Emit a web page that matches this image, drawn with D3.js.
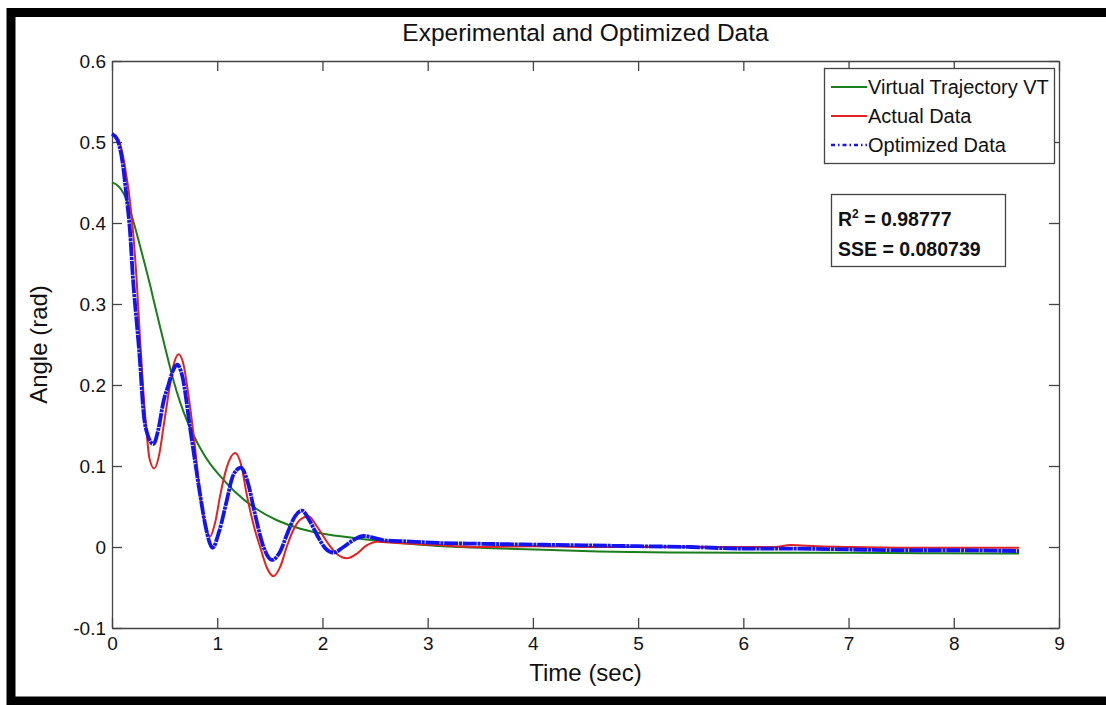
<!DOCTYPE html>
<html>
<head>
<meta charset="utf-8">
<script src="https://cdn.jsdelivr.net/npm/d3@7"></script>
<style>
  body { margin: 0; background: #fff; }
  text { font-family: "Liberation Sans", Arial, Helvetica, sans-serif; fill: #111; }
</style>
</head>
<body>
<div id="chart"></div>
<script>
// Data (time in sec, angle in rad)
var vt_t = [0, 0.06, 0.124, 0.187, 0.25, 0.31, 0.36, 0.393, 0.46, 0.52, 0.583, 0.65, 0.71, 0.774, 0.837, 0.92, 1.03, 1.155, 1.345, 1.567, 1.79, 2.01, 2.39, 2.8, 3.2, 3.5, 4.0, 4.61, 5.3, 6.0, 7.0, 7.8, 8.62];
var vt_v = [0.45, 0.447, 0.435, 0.41, 0.38, 0.35, 0.325, 0.306, 0.27, 0.238, 0.205, 0.177, 0.156, 0.138, 0.122, 0.104, 0.087, 0.069, 0.048, 0.032, 0.022, 0.0157, 0.0095, 0.004, 0.0, -0.001, -0.003, -0.006, -0.007, -0.007, -0.007, -0.008, -0.008];

var actual_t = [0, 0.06, 0.12, 0.187, 0.235, 0.266, 0.298, 0.33, 0.355, 0.4, 0.45, 0.488, 0.536, 0.58, 0.634, 0.68, 0.726, 0.79, 0.837, 0.885, 0.932, 0.98, 1.03, 1.09, 1.17, 1.23, 1.28, 1.35, 1.41, 1.47, 1.535, 1.6, 1.66, 1.72, 1.79, 1.868, 1.95, 2.05, 2.14, 2.233, 2.33, 2.42, 2.52, 2.7, 3.0, 3.5, 4.0, 4.5, 5.0, 5.5, 6.0, 6.3, 6.45, 6.7, 7.0, 7.6, 8.0, 8.62];
var actual_v = [0.51, 0.503, 0.472, 0.408, 0.328, 0.258, 0.192, 0.14, 0.11, 0.097, 0.115, 0.147, 0.188, 0.222, 0.238, 0.225, 0.188, 0.122, 0.065, 0.028, 0.013, 0.03, 0.065, 0.098, 0.116, 0.1, 0.065, 0.025, -0.001, -0.025, -0.036, -0.024, 0.0, 0.02, 0.034, 0.038, 0.025, 0.005, -0.009, -0.014, -0.008, 0.002, 0.0066, 0.005, 0.003, 0.0, 0.001, 0.0, 0.0, 0.0, 0.0, 0.0, 0.0025, 0.001, 0.0, -0.001, -0.001, -0.001];

var optim_t = [0, 0.05, 0.1, 0.14, 0.171, 0.2, 0.24, 0.266, 0.298, 0.34, 0.393, 0.44, 0.49, 0.536, 0.58, 0.62, 0.67, 0.742, 0.79, 0.837, 0.89, 0.955, 1.02, 1.09, 1.15, 1.225, 1.29, 1.36, 1.44, 1.52, 1.6, 1.67, 1.74, 1.805, 1.88, 1.96, 2.03, 2.106, 2.2, 2.3, 2.39, 2.5, 2.6, 2.8, 3.1, 3.5, 4.0, 4.5, 5.0, 5.5, 6.0, 6.5, 7.0, 7.5, 8.0, 8.62];
var optim_v = [0.51, 0.503, 0.475, 0.43, 0.39, 0.33, 0.27, 0.229, 0.168, 0.138, 0.127, 0.145, 0.18, 0.2, 0.218, 0.225, 0.21, 0.147, 0.105, 0.065, 0.025, -0.001, 0.02, 0.057, 0.088, 0.098, 0.08, 0.04, 0.0, -0.016, -0.005, 0.018, 0.038, 0.045, 0.032, 0.012, -0.002, -0.007, 0.0, 0.009, 0.0136, 0.011, 0.008, 0.007, 0.005, 0.004, 0.003, 0.002, 0.001, 0.0, -0.002, -0.002, -0.003, -0.004, -0.004, -0.005];

var x_ticks = [0, 1, 2, 3, 4, 5, 6, 7, 8, 9];
var y_ticks = [-0.1, 0, 0.1, 0.2, 0.3, 0.4, 0.5, 0.6];
var y_tick_labels = ["-0.1", "0", "0.1", "0.2", "0.3", "0.4", "0.5", "0.6"];
var legend_labels = ["Virtual Trajectory VT", "Actual Data", "Optimized Data"];

// Setting parameters for the chart area
var svg_width = 1106;
var svg_height = 705;
var margin = { top: 61, right: 47, bottom: 77, left: 112 };
var width = svg_width - margin.left - margin.right;
var height = svg_height - margin.top - margin.bottom;

var svg = d3.select("#chart")
    .append("svg")
    .attr("width", svg_width)
    .attr("height", svg_height)

// thick black frame (right side is cut off in the original)
svg.append("rect")
    .attr("x", 11).attr("y", 12.5)
    .attr("width", 1130).attr("height", 688.5)
    .attr("fill", "none")
    .attr("stroke", "#000")
    .attr("stroke-width", 9)

var chart = svg.append("g")
    .attr("transform", `translate(${margin.left}, ${margin.top})`)

var x_scale = d3.scaleLinear().domain([0, 9]).range([0, width])
var y_scale = d3.scaleLinear().domain([-0.1, 0.6]).range([height, 0])

// axes, MATLAB style ticks pointing in
function styleAxis(g) {
    g.select(".domain").attr("stroke", "#444").attr("stroke-width", 1.3)
    g.selectAll(".tick line").attr("stroke", "#444").attr("stroke-width", 1.3)
    g.selectAll(".tick text").style("font-size", "19px").attr("fill", "#111")
}

chart.append("g")
    .attr("transform", `translate(0, ${height})`)
    .call(d3.axisBottom(x_scale).tickValues(x_ticks).tickFormat(d3.format("d"))
        .tickSizeInner(-10).tickSizeOuter(0).tickPadding(9))
    .call(styleAxis)

chart.append("g")
    .call(d3.axisTop(x_scale).tickValues(x_ticks).tickFormat("")
        .tickSizeInner(-10).tickSizeOuter(0))
    .call(styleAxis)

chart.append("g")
    .call(d3.axisLeft(y_scale).tickValues(y_ticks).tickFormat((d, i) => y_tick_labels[i])
        .tickSizeInner(-10).tickSizeOuter(0).tickPadding(6))
    .call(styleAxis)

chart.append("g")
    .attr("transform", `translate(${width}, 0)`)
    .call(d3.axisRight(y_scale).tickValues(y_ticks).tickFormat("")
        .tickSizeInner(-10).tickSizeOuter(0))
    .call(styleAxis)

// lines
var line = d3.line()
    .x(d => x_scale(d[0]))
    .y(d => y_scale(d[1]))

chart.append("path")
    .datum(d3.zip(vt_t, vt_v))
    .attr("d", line.curve(d3.curveBasis))
    .attr("fill", "none")
    .attr("stroke", "#1b7d1b")
    .attr("stroke-width", 2)

line.curve(d3.curveMonotoneX)

chart.append("path")
    .datum(d3.zip(actual_t, actual_v))
    .attr("d", line)
    .attr("fill", "none")
    .attr("stroke", "#e2231f")
    .attr("stroke-width", 2)

chart.append("path")
    .datum(d3.zip(optim_t, optim_v))
    .attr("d", line)
    .attr("fill", "none")
    .attr("stroke", "#1414ee")
    .attr("stroke-width", 3.8)
    .attr("stroke-dasharray", "14,0.8,3,0.8")

// title and axis labels
svg.append("text")
    .attr("x", margin.left + width / 2)
    .attr("y", 41)
    .attr("text-anchor", "middle")
    .style("font-size", "24.5px")
    .text("Experimental and Optimized Data")

svg.append("text")
    .attr("x", margin.left + width / 2)
    .attr("y", 681)
    .attr("text-anchor", "middle")
    .style("font-size", "24px")
    .text("Time (sec)")

svg.append("text")
    .attr("transform", `translate(47, ${margin.top + height / 2}) rotate(-90)`)
    .attr("text-anchor", "middle")
    .style("font-size", "24px")
    .text("Angle (rad)")

// legend
svg.append("rect")
    .attr("x", 824.5).attr("y", 68.5)
    .attr("width", 230).attr("height", 95)
    .attr("fill", "#fff")
    .attr("stroke", "#444")
    .attr("stroke-width", 1.3)

var legend_colors = ["#1b7d1b", "#e2231f", "#1414ee"]
var legend_dash = [null, null, "4,3,1.5,3"]
var legend_y = [87, 116, 145]

legend_labels.forEach(function(label, i) {
    svg.append("line")
        .attr("x1", 831).attr("x2", 867)
        .attr("y1", legend_y[i]).attr("y2", legend_y[i])
        .attr("stroke", legend_colors[i])
        .attr("stroke-width", i == 2 ? 2.5 : 2)
        .attr("stroke-dasharray", legend_dash[i])
    svg.append("text")
        .attr("x", 868)
        .attr("y", legend_y[i] + 7)
        .style("font-size", "20px")
        .text(label)
})

// fit statistics box
svg.append("rect")
    .attr("x", 831.5).attr("y", 194.5)
    .attr("width", 174).attr("height", 72)
    .attr("fill", "#fff")
    .attr("stroke", "#444")
    .attr("stroke-width", 1.3)

var r2 = svg.append("text")
    .attr("x", 838).attr("y", 226)
    .style("font-size", "19.5px")
    .style("font-weight", "bold")
r2.append("tspan").text("R")
r2.append("tspan").attr("dy", -8).style("font-size", "12px").text("2")
r2.append("tspan").attr("dy", 8).text(" = 0.98777")

svg.append("text")
    .attr("x", 838).attr("y", 256)
    .style("font-size", "19.5px")
    .style("font-weight", "bold")
    .text("SSE = 0.080739")
</script>
</body>
</html>
